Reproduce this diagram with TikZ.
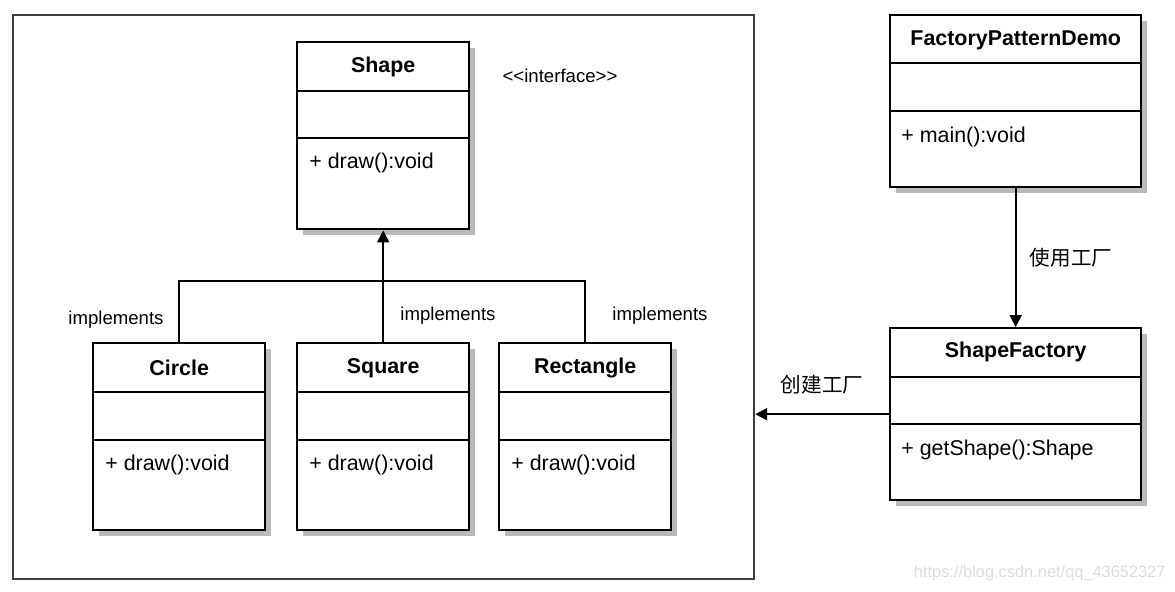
\documentclass[tikz,border=0pt]{standalone}
\usepackage{fontspec}
\setmainfont{Liberation Sans}
\newfontfamily\cjk{Noto Sans CJK SC}
\usetikzlibrary{positioning,arrows.meta,calc,shadows}
\newcommand{\drawop}{+ draw():void}

\begin{document}
\begin{tikzpicture}[x=0.5pt, y=-0.5pt,
  font=\fontsize{10.7}{12}\selectfont, >={Triangle[length=6pt, width=6pt]},
  cls/.style={draw, line width=1.2pt, fill=white, anchor=north west, inner sep=0pt,
    minimum width=86pt, minimum height=93.5pt,
    drop shadow={shadow xshift=3pt, shadow yshift=-3pt, fill=black!27, opacity=1}},
  wide/.style={cls, minimum width=125.5pt, minimum height=86pt},
  ttl/.style={font=\fontsize{10.7}{12}\selectfont\bfseries, inner sep=0pt},
  mth/.style={anchor=west, inner sep=0pt},
  lbl/.style={font=\fontsize{9.3}{11}\selectfont, inner sep=0pt},
  zh/.style={inner sep=0pt, font=\fontsize{10.3}{12}\selectfont\cjk},
  sep/.style={line width=1.1pt},
  link/.style={line width=0.9pt}]
  \useasboundingbox (0,0) rectangle (1175,591);
  % frame round the products
  \node[draw=black!75, line width=1.1pt, anchor=north west, inner sep=0pt,
    minimum width=370.5pt, minimum height=282pt] (frame) at (12,14) {};
  % interface
  \node[cls] (shape) at (296,41) {};
  \draw[sep] ($(shape.north west)+(0,50)$) -- ++(172,0);
  \draw[sep] ($(shape.north west)+(0,97)$) -- ++(172,0);
  \node[ttl] (shapeT) at ($(shape.north)+(0,26)$) {Shape};
  \node[mth] (shapeM) at ($(shape.north west)+(13,122)$) {\drawop};
  \node[lbl] (iface) at (560,76) {<\kern0pt<interface>\kern0pt>};
  % products
  \node[cls] (circle) at (92,342) {};
  \draw[sep] ($(circle.north west)+(0,50)$) -- ++(172,0);
  \draw[sep] ($(circle.north west)+(0,98)$) -- ++(172,0);
  \node[ttl] (circleT) at ($(circle.north)+(0,26)$) {Circle};
  \node[mth] (circleM) at ($(circle.north west)+(13,123)$) {\drawop};
  \node[cls] (square) at (296,342) {};
  \draw[sep] ($(square.north west)+(0,50)$) -- ++(172,0);
  \draw[sep] ($(square.north west)+(0,98)$) -- ++(172,0);
  \node[ttl] (squareT) at ($(square.north)+(0,26)$) {Square};
  \node[mth] (squareM) at ($(square.north west)+(13,123)$) {\drawop};
  \node[cls] (rect) at (498,342) {};
  \draw[sep] ($(rect.north west)+(0,50)$) -- ++(172,0);
  \draw[sep] ($(rect.north west)+(0,98)$) -- ++(172,0);
  \node[ttl] (rectT) at ($(rect.north)+(0,26)$) {Rectangle};
  \node[mth] (rectM) at ($(rect.north west)+(13,123)$) {\drawop};
  % client and factory
  \node[wide] (demo) at (889,14) {};
  \draw[sep] ($(demo.north west)+(0,49)$) -- ++(251,0);
  \draw[sep] ($(demo.north west)+(0,97)$) -- ++(251,0);
  \node[ttl] (demoT) at ($(demo.north)+(0,26)$) {FactoryPatternDemo};
  \node[mth] (demoM) at ($(demo.north west)+(12,123)$) {+ main():void};
  \node[wide] (factory) at (889,327) {};
  \draw[sep] ($(factory.north west)+(0,50)$) -- ++(251,0);
  \draw[sep] ($(factory.north west)+(0,97)$) -- ++(251,0);
  \node[ttl] (factoryT) at ($(factory.north)+(0,25)$) {ShapeFactory};
  \node[mth] (factoryM) at ($(factory.north west)+(12,123)$) {+ getShape():Shape};
  % connectors
  \draw[link, ->] (square.north) -- (shape.south);
  \draw[link] (circle.north) -- ++(0,-61) -| (rect.north);
  \node[lbl] (implA) at (116,320) {implements};
  \node[lbl] (implB) at (448,316) {implements};
  \node[lbl] (implC) at (660,316) {implements};
  \draw[link, ->] (demo.south) -- (factory.north);
  \node[zh] (use) at (1071,258) {使用工厂};
  \draw[link, ->] (factory.west) -- (factory.west -| frame.east);
  \node[zh] (make) at (822,385) {创建工厂};
  \node[lbl, anchor=east, text=black!14, font=\fontsize{8.2}{10}\selectfont] (mark)
    at (1166,573) {https://blog.csdn.net/qq\_43652327};
\end{tikzpicture}
\end{document}
